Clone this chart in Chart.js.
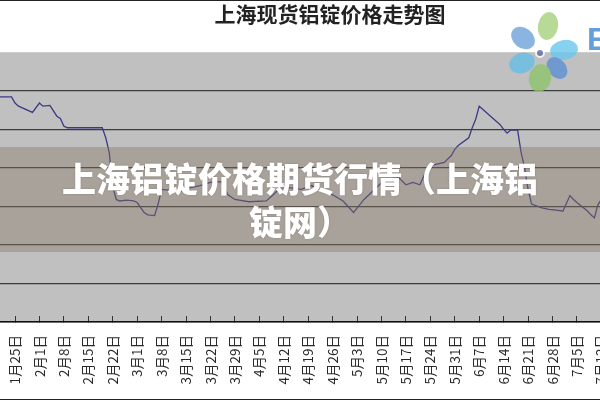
<!DOCTYPE html>
<html>
<head>
<meta charset="utf-8">
<script src="https://cdn.jsdelivr.net/npm/chart.js@4.4.1/dist/chart.umd.min.js"></script>
<style>
  html, body { margin: 0; padding: 0; width: 600px; height: 400px; overflow: hidden; background: #fff; }
  #wrap { position: absolute; left: 0; top: 0; width: 660px; height: 400px; }
  .edge { position: absolute; left: 0; width: 600px; height: 1px; background: #222; }
  .logo { position: absolute; left: 490px; top: 0; }
  .banner { position: absolute; left: 0; top: 147px; width: 600px; height: 105px; background: rgba(135, 117, 100, 0.4); }
  .banner-text {
    position: absolute; left: 0; top: 156px; width: 600px; text-align: center;
    color: #fff; font: 900 34px "Noto Sans CJK SC"; line-height: 43px;
    text-shadow: 0 0 2px rgba(60, 50, 40, 0.3);
  }
</style>
</head>
<body>
<div id="wrap"><canvas id="priceChart" width="660" height="400"></canvas></div>

<svg class="logo" width="110" height="100" viewBox="0 0 110 100">
  <g opacity="0.8">
    <ellipse cx="33" cy="38" rx="13" ry="10" transform="rotate(40 33 38)" fill="#6fa3d9"/>
    <ellipse cx="58" cy="26" rx="10" ry="14" transform="rotate(10 58 26)" fill="#a5d27c"/>
    <ellipse cx="74" cy="50" rx="14" ry="10" transform="rotate(-10 74 50)" fill="#6ac6ee"/>
    <ellipse cx="67" cy="68" rx="9" ry="12" transform="rotate(-40 67 68)" fill="#5b8fd3"/>
    <ellipse cx="50" cy="78" rx="11" ry="14" transform="rotate(10 50 78)" fill="#8cc46c"/>
    <ellipse cx="32" cy="63" rx="13" ry="10" transform="rotate(-20 32 63)" fill="#64bde6"/>
    <circle cx="50" cy="53" r="4" fill="#5a70a8" stroke="#fff" stroke-width="2"/>
  </g>
  <text x="97" y="50" font-family="Liberation Sans" font-weight="bold" font-size="32" fill="#4b8fd0" opacity="0.85">E</text>
</svg>

<div class="banner"></div>
<div class="banner-text">上海铝锭价格期货行情（上海铝<br>锭网）</div>
<div class="edge" style="top:0"></div>
<div class="edge" style="top:399px"></div>

<script>
(function () {
    // 周刻度（从1月25日起，每7天一格）
    const tickLabels = [
        "1月25日", "2月1日", "2月8日", "2月15日", "2月22日", "3月1日", "3月8日",
        "3月15日", "3月22日", "3月29日", "4月5日", "4月12日", "4月19日", "4月26日",
        "5月3日", "5月10日", "5月17日", "5月24日", "5月31日", "6月7日", "6月14日",
        "6月21日", "6月28日", "7月5日", "7月12日", "7月19日"
    ];
    const tickDays = tickLabels.map((_, i) => i * 7);

    // 距1月25日的天数 / 现货价格（元/吨）
    const days = [
        -7, -4, -1, 0, 1, 5, 7, 8, 10, 12, 13, 14, 15, 25, 26, 27, 28, 29, 30, 32,
        34, 35, 37, 38, 40, 41, 42, 44, 47, 50, 53, 56, 59, 61, 63, 67, 72, 74, 76, 79,
        82, 85, 87, 91, 94, 97, 100, 103, 106, 110, 112, 114, 116, 118, 120, 123, 125, 126, 127, 130,
        131, 132, 133, 134, 136, 139, 140, 141, 142, 144, 145, 146, 147, 148, 151, 153, 157, 159, 160, 161,
        164, 165, 166, 167, 168, 171
    ];
    const prices = [
        16930, 16920, 16920, 16840, 16800, 16720, 16840, 16800, 16810, 16670, 16640, 16540, 16520, 16520, 16390, 16200, 15760, 15590, 15570, 15580,
        15570, 15550, 15420, 15390, 15380, 15530, 15720, 15710, 15690, 15740, 15770, 15810, 15820, 15650, 15590, 15560, 15570, 15650, 15740, 15740,
        15720, 15770, 15720, 15650, 15570, 15420, 15590, 15720, 15850, 15870, 15780, 15810, 15780, 15980, 16040, 16070, 16160, 16240, 16290, 16390,
        16520, 16630, 16800, 16760, 16680, 16560, 16500, 16450, 16490, 16490, 16200, 16000, 15720, 15530, 15480, 15460, 15440, 15640, 15590, 15550,
        15440, 15390, 15350, 15520, 15590, 15600
    ];

    const plotBg = {
        id: "plotBg",
        beforeDraw(chart) {
            const { ctx, chartArea: a } = chart;
            ctx.save();
            ctx.fillStyle = "#c0c0c0";
            ctx.fillRect(a.left, a.top, a.right - a.left, a.bottom - a.top);
            ctx.restore();
        },
    };

    new Chart(document.querySelector("#priceChart"), {
        type: "line",
        data: {
            datasets: [{
                label: "上海现货铝锭价格",
                data: days.map((d, i) => ({ x: d, y: prices[i] })),
                borderColor: "#3a3a86",
                borderWidth: 1.3,
                pointRadius: 0,
                tension: 0,
                fill: false,
            }],
        },
        options: {
            responsive: false,
            animation: false,
            layout: { padding: 0 },
            plugins: {
                legend: { display: false },
                tooltip: { enabled: false },
                title: {
                    display: true,
                    text: "上海现货铝锭价格走势图",
                    color: "#222",
                    font: { family: '"Noto Sans CJK SC"', size: 21, weight: "bold" },
                    padding: { top: 1, bottom: 26 },
                },
            },
            scales: {
                x: {
                    type: "linear",
                    min: -4.3,
                    max: 184.8,
                    afterBuildTicks: (axis) => {
                        axis.ticks = tickDays.map((v) => ({ value: v }));
                    },
                    afterFit: (axis) => {
                        axis.height = 78;
                        axis.paddingLeft = 0;
                        axis.paddingRight = 0;
                    },
                    ticks: {
                        autoSkip: false,
                        minRotation: 90,
                        maxRotation: 90,
                        padding: 19,
                        color: "#2a2a2a",
                        font: { family: '"Noto Sans CJK SC"', size: 13.5 },
                        callback: (value, index) => tickLabels[index],
                    },
                    grid: { drawOnChartArea: false, tickLength: -6, color: "#333" },
                    border: { color: "#111", width: 1.5 },
                },
                y: {
                    min: 14000,
                    max: 17500,
                    ticks: { display: false, stepSize: 500 },
                    grid: {
                        drawTicks: false,
                        lineWidth: 1.3,
                        color: (ctx) => (ctx.tick && ctx.tick.value === 17500 ? "rgba(0,0,0,0)" : "#3c3c3c"),
                    },
                    border: { display: false },
                },
            },
        },
        plugins: [plotBg],
    });
})();
</script>
</body>
</html>
